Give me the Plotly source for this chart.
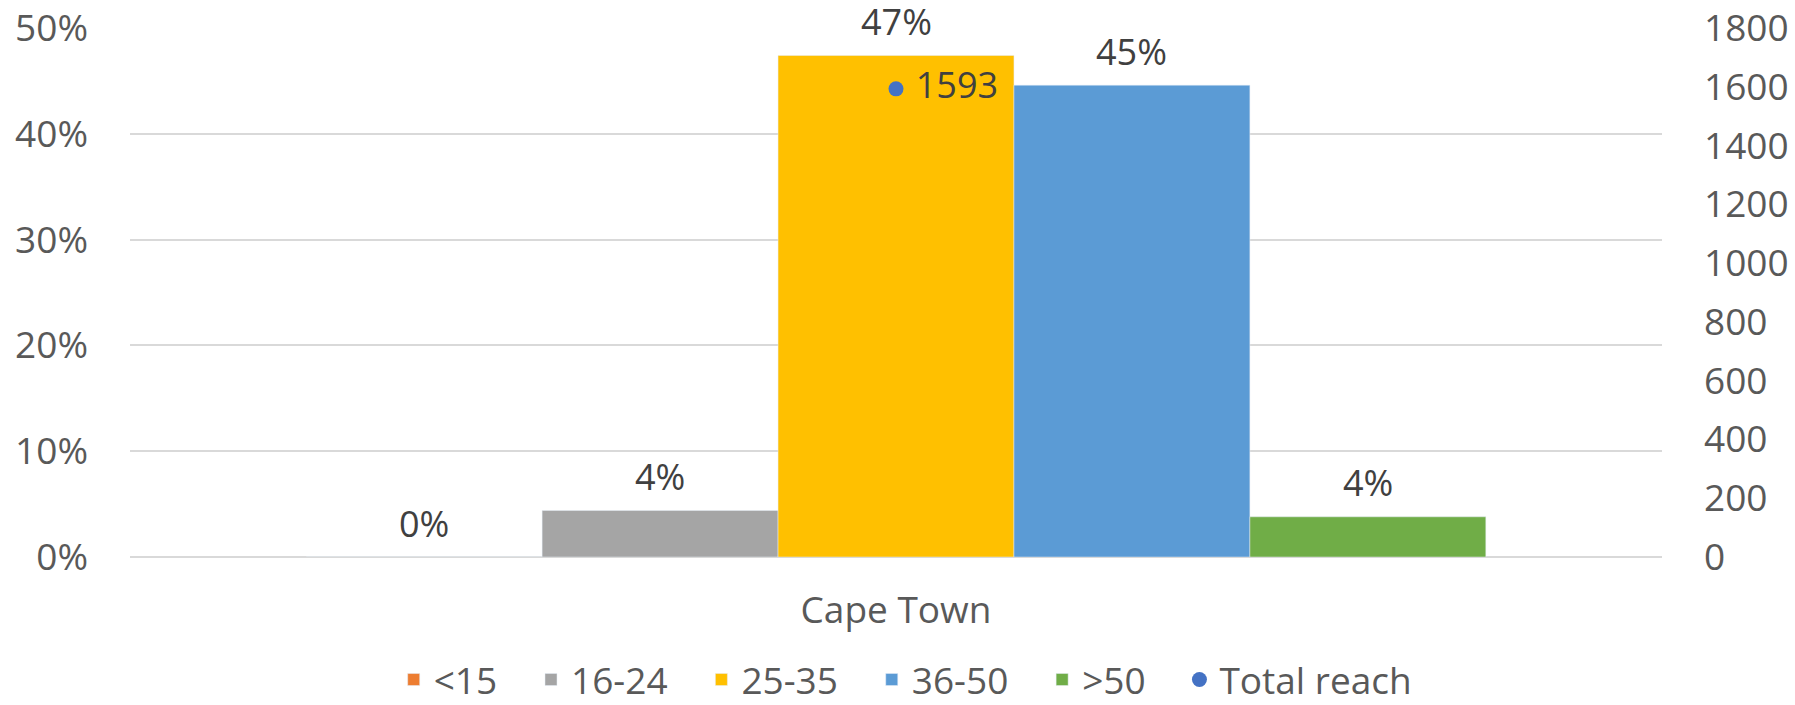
import plotly.graph_objects as go

# data
cities = ["Cape Town"]
age_groups = ["<15", "16-24", "25-35", "36-50", ">50"]
shares = [0.0, 0.044, 0.474, 0.446, 0.038]
share_labels = ["0%", "4%", "47%", "45%", "4%"]
total_reach = [1593]

colors = ["#ED7D31", "#A5A5A5", "#FFC000", "#5B9BD5", "#70AD47"]
dot_color = "#4472C4"
tick_color = "#595959"
label_color = "#404040"
grid_color = "#D9D9D9"
font = "Open Sans"
bargap = 0.23
pad = "\u00a0\u00a0\u00a0"  # extra room between legend entries

fig = go.Figure()
for name, share, color in zip(age_groups, shares, colors):
    fig.add_bar(
        x=cities,
        y=[share],
        name=name + pad,
        marker_color=color,
        hovertemplate=name + ": %{y:.0%}<extra></extra>",
    )

fig.add_scatter(
    x=cities,
    y=total_reach,
    name="Total reach",
    yaxis="y2",
    mode="markers+text",
    marker=dict(color=dot_color, size=15),
    text=["\u00a0" + str(v) for v in total_reach],
    textposition="middle right",
    textfont=dict(size=36, color=label_color, family=font),
    cliponaxis=False,
)

# value labels above the bars, placed at each bar's slot in the group
n = len(age_groups)
slot = (1 - bargap) / n
for i, (share, lab) in enumerate(zip(shares, share_labels)):
    fig.add_annotation(
        x=(i - (n - 1) / 2) * slot,
        y=share,
        xref="x",
        yref="y",
        text=lab,
        showarrow=False,
        yanchor="middle",
        yshift=34,
        font=dict(size=36, color=label_color, family=font),
    )

fig.update_layout(
    width=1795,
    height=705,
    margin=dict(l=130, r=133, t=28, b=147.5),
    paper_bgcolor="white",
    plot_bgcolor="white",
    barmode="group",
    bargap=bargap,
    bargroupgap=0,
    font=dict(family=font, size=37, color=tick_color),
    showlegend=True,
    legend=dict(
        orientation="h",
        x=0.506,
        xanchor="center",
        yref="container",
        y=0.0355,
        yanchor="middle",
        font=dict(size=37, color=tick_color),
        traceorder="normal",
    ),
    xaxis=dict(
        type="category",
        showgrid=False,
        showline=False,
        zeroline=False,
        ticks="",
        automargin=False,
        ticklabelstandoff=28,
        tickfont=dict(size=37, color=tick_color),
    ),
    yaxis=dict(
        range=[0, 0.5],
        dtick=0.1,
        tickformat=".0%",
        showgrid=True,
        gridcolor=grid_color,
        gridwidth=1.5,
        zeroline=True,
        zerolinecolor=grid_color,
        zerolinewidth=1.5,
        showline=False,
        automargin=False,
        ticklabelstandoff=41,
        tickfont=dict(size=37, color=tick_color),
    ),
    yaxis2=dict(
        range=[0, 1800],
        dtick=200,
        overlaying="y",
        side="right",
        showgrid=False,
        zeroline=False,
        showline=False,
        automargin=False,
        ticklabelstandoff=41,
        tickfont=dict(size=37, color=tick_color),
    ),
)

fig.write_html(
    "out.html",
    config={"displayModeBar": False},
    post_script="document.body.style.margin = '0';",
)
